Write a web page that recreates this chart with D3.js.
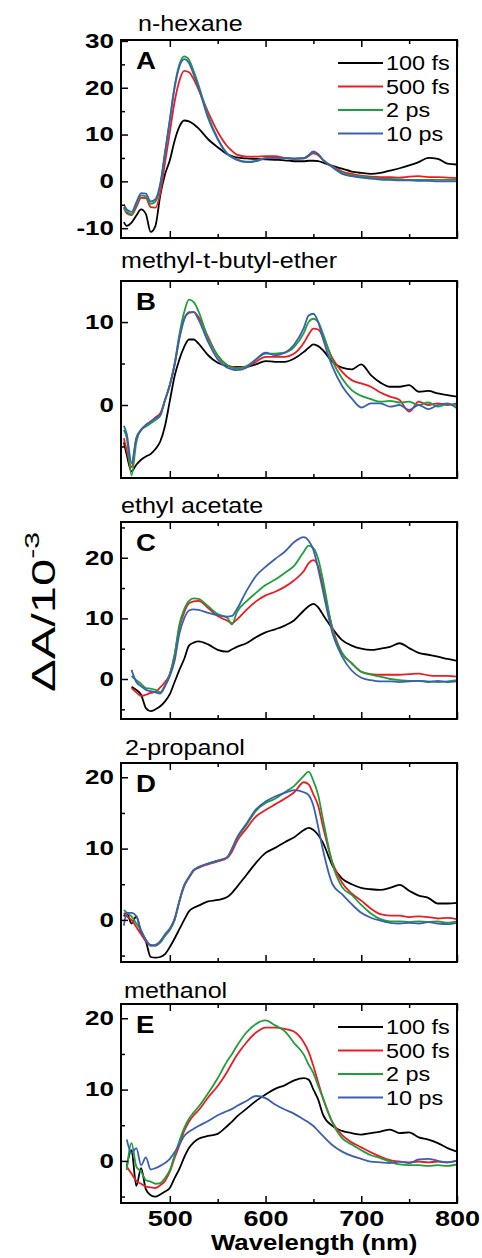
<!DOCTYPE html>
<html>
<head>
<meta charset="utf-8">
<script src="https://cdn.jsdelivr.net/npm/d3@7"></script>
<style>
body { margin: 0; background: #fff; }
text { font-family: "Liberation Sans", Arial, sans-serif; fill: #000; }
</style>
</head>
<body>
<script>
var width  = 482
var height = 1258

// ---- data (ΔA in units of 10^-3) ----
var wavelength = [452, 455, 460, 465, 470, 475, 480, 485, 490, 495,
  500, 505, 510, 515, 520, 525, 530, 540, 550, 560,
  565, 570, 580, 590, 600, 610, 620, 630, 640, 645,
  650, 655, 660, 670, 680, 690, 700, 710, 720, 730,
  740, 750, 760, 770, 780, 790, 800]

var delays      = ['100 fs', '500 fs', '2 ps', '10 ps']
var delayColors = ['#000000', '#ec1c24', '#1f9e3a', '#3b5fb3']
var solvents    = ['n-hexane', 'methyl-t-butyl-ether', 'ethyl acetate', '2-propanol', 'methanol']
var panelLetters = ['A', 'B', 'C', 'D', 'E']
var xTickLabels = [500, 600, 700, 800]
var yTickLabels = [[30, 20, 10, 0, -10], [10, 0], [20, 10, 0], [20, 10, 0], [20, 10, 0]]

// rows: 100 fs, 500 fs, 2 ps, 10 ps
var hexane = [
  [-8.7, -9.5, -8.8, -7.3, -6.0, -7.0, -10.8, -9.5, -3.0, 1.5,
    4.5, 8.7, 11.7, 13.0, 12.8, 12.2, 11.3, 9.0, 7.3, 5.8,
    5.4, 5.1, 4.9, 4.8, 4.7, 4.6, 4.5, 4.3, 4.3, 4.4,
    4.4, 4.3, 4.0, 3.3, 2.7, 2.1, 1.8, 1.6, 1.8, 2.3,
    2.8, 3.4, 4.1, 5.0, 4.8, 3.8, 3.6],
  [-5.5, -6.8, -7.2, -5.5, -3.5, -3.6, -5.5, -5.6, -2.5, 4.0,
    10.5, 17.0, 21.5, 23.6, 23.3, 21.8, 19.6, 14.8, 10.6, 7.5,
    6.5, 5.7, 5.3, 5.3, 5.4, 5.4, 5.0, 4.8, 4.9, 5.4,
    6.0, 5.6, 4.6, 3.2, 2.1, 1.6, 1.2, 1.0, 0.9, 0.9,
    0.8, 1.0, 1.1, 0.9, 0.9, 0.8, 0.7],
  [-5.8, -6.5, -7.0, -5.0, -3.0, -3.2, -4.8, -4.3, -1.0, 6.0,
    13.2, 20.3, 25.0, 26.7, 26.0, 23.5, 20.6, 14.0, 9.2, 6.0,
    5.2, 4.7, 4.2, 4.4, 5.0, 5.0, 5.0, 4.9, 5.0, 5.6,
    6.3, 5.8, 4.6, 3.1, 1.8, 1.3, 1.0, 0.8, 0.6, 0.5,
    0.4, 0.3, 0.3, 0.3, 0.3, 0.3, 0.3],
  [-5.0, -6.0, -6.5, -4.5, -2.5, -2.6, -4.3, -3.8, -0.5, 6.3,
    13.0, 20.0, 24.5, 26.1, 25.3, 22.8, 20.0, 13.5, 9.0, 5.8,
    5.1, 4.6, 4.1, 4.3, 4.9, 5.0, 5.0, 4.8, 4.9, 5.6,
    6.4, 5.8, 4.6, 3.0, 1.6, 1.1, 0.8, 0.6, 0.4, 0.3,
    0.2, 0.2, 0.1, 0.1, 0.0, 0.0, 0.0]
]

var mtbe = [
  [-4.5, -6.0, -8.0, -7.2, -6.6, -6.2, -5.9, -5.3, -4.4, -2.5,
    0.5, 3.5, 5.5, 7.0, 7.9, 7.9, 7.4, 6.0, 5.1, 4.7,
    4.6, 4.6, 4.6, 4.9, 5.3, 5.2, 5.2, 5.6, 6.4, 6.9,
    7.3, 7.1, 6.6, 5.2, 4.5, 4.3, 4.9, 3.6, 2.7, 2.2,
    2.2, 2.4, 1.6, 1.7, 1.4, 1.2, 1.0],
  [-4.0, -5.5, -7.5, -4.0, -3.0, -2.4, -2.0, -1.5, -1.0, 0.6,
    2.4, 4.9, 8.2, 10.4, 11.1, 11.2, 10.6, 8.2, 5.9, 4.8,
    4.6, 4.5, 4.6, 5.2, 5.8, 5.8, 5.8, 6.2, 7.5, 8.5,
    9.2, 9.1, 8.2, 5.6, 4.0, 3.0, 2.6, 2.2, 1.5, 1.0,
    0.6, -0.8, 0.4, 0.0, 0.2, 0.0, 0.2],
  [-3.0, -4.0, -8.5, -4.5, -3.0, -2.6, -2.2, -1.8, -1.3, 0.6,
    2.4, 5.0, 8.5, 11.2, 12.7, 12.4, 11.3, 8.0, 6.0, 4.8,
    4.5, 4.4, 4.7, 5.5, 6.2, 6.2, 6.3, 7.0, 8.7, 10.0,
    10.4, 10.0, 8.6, 5.3, 3.2, 1.8, 1.1, 0.7, 0.4, 0.5,
    0.3, 0.4, 0.0, 0.3, -0.2, 0.1, 0.0],
  [-2.5, -3.5, -7.0, -4.0, -3.0, -2.4, -2.0, -1.6, -1.2, 0.6,
    2.4, 4.8, 8.0, 10.3, 11.2, 11.2, 10.3, 7.6, 5.5, 4.5,
    4.3, 4.2, 4.5, 5.5, 6.3, 6.0, 6.3, 7.3, 9.3, 10.8,
    11.0, 10.0, 8.0, 4.6, 2.3, 0.8, -0.3, 0.2, 0.2, -0.2,
    0.0, -0.6, 0.0, -0.5, 0.0, 0.2, -0.4]
]

var ethylAcetate = [
  [null, null, -1.3, -1.8, -2.6, -4.8, -5.3, -5.0, -4.5, -3.7,
    -2.5, -0.5, 1.5, 3.3, 5.5, 6.0, 6.2, 5.7, 4.8, 4.5,
    4.9, 5.3, 5.9, 6.9, 7.7, 8.2, 8.8, 9.7, 11.3, 12.0,
    12.4, 11.8, 10.6, 8.3, 6.4, 5.5, 5.0, 4.8, 5.0, 5.3,
    5.9, 5.1, 4.3, 4.0, 3.7, 3.3, 3.0],
  [null, null, -1.5, -2.2, -2.8, -2.6, -2.3, -2.1, -1.4, -0.5,
    0.8, 4.0, 8.5, 11.0, 12.5, 12.8, 12.9, 11.7, 10.4, 9.6,
    9.2, 9.8, 11.4, 12.8, 13.8, 14.4, 15.2, 16.3, 17.8, 19.1,
    19.6, 18.5, 15.2, 8.4, 4.2, 2.6, 1.2, 0.8, 0.7, 0.7,
    0.7, 0.8, 0.9, 0.6, 0.5, 0.5, 0.4],
  [null, null, 0.5, -0.2, -0.8, -1.5, -1.6, -1.8, -2.2, -1.0,
    0.8, 4.0, 9.0, 11.5, 12.9, 13.3, 13.2, 12.0, 10.7, 10.1,
    9.0, 11.0, 12.8, 14.2, 15.5, 16.4, 17.5, 18.7, 21.0, 22.0,
    21.6, 19.8, 16.3, 8.0, 4.3, 2.6, 1.2, 0.7, 0.4, 0.0,
    -0.2, -0.3, -0.3, -0.4, -0.5, -0.4, -0.2],
  [null, null, 1.5, -0.5, -1.2, -1.8, -2.0, -2.2, -2.4, -1.2,
    0.5, 3.0, 7.5, 10.0, 11.3, 11.5, 11.4, 10.9, 10.5, 10.3,
    10.4, 11.5, 14.5, 17.0, 18.5, 19.8, 21.0, 22.6, 23.4, 22.8,
    21.3, 18.2, 14.5, 7.5, 3.7, 1.4, 0.2, -0.2, -0.4, -0.4,
    -0.5, -0.4, -0.3, -0.5, -0.3, -0.5, -0.4]
]

var propanol = [
  [0.5, 1.0, -0.5, 0.5, -1.8, -3.0, -5.2, -5.3, -5.2, -4.8,
    -3.8, -2.6, -1.3, 0.0, 1.2, 1.7, 2.0, 2.6, 2.8, 3.2,
    3.8, 4.6, 6.3, 8.0, 9.4, 10.1, 10.9, 11.6, 12.6, 12.9,
    12.6, 11.9, 10.8, 7.6, 5.8, 5.0, 4.5, 4.3, 4.2, 4.5,
    4.9, 4.1, 3.4, 3.1, 2.3, 2.3, 2.4],
  [1.0, 0.5, 0.0, -1.0, -2.0, -3.0, -3.6, -3.5, -3.0, -2.2,
    -1.4, 0.0, 2.6, 4.7, 5.9, 6.9, 7.3, 7.8, 8.2, 8.7,
    9.6, 11.0, 12.8, 14.5, 15.4, 16.2, 17.0, 17.9, 19.3, 19.0,
    17.6, 16.0, 13.1, 8.0, 5.2, 3.7, 2.7, 1.6, 0.8, 0.6,
    0.6, 0.4, 0.5, 0.4, 0.2, 0.3, 0.1],
  [1.4, 1.0, 0.5, -0.5, -1.5, -2.8, -3.6, -3.6, -3.2, -2.2,
    -1.4, 0.0, 2.6, 4.8, 6.0, 7.0, 7.4, 7.9, 8.3, 8.8,
    10.0, 11.4, 13.3, 15.3, 16.4, 17.0, 17.9, 18.8, 20.2, 20.8,
    19.5, 17.5, 14.1, 7.8, 4.6, 3.5, 2.1, 0.9, 0.1, -0.2,
    -0.2, -0.3, -0.2, -0.3, -0.2, -0.4, -0.2],
  [-0.8, 1.0, 1.0, 0.5, -1.5, -2.8, -3.5, -3.6, -3.0, -2.0,
    -1.2, 0.2, 2.7, 4.9, 6.0, 7.0, 7.4, 7.9, 8.3, 8.8,
    10.0, 11.5, 13.5, 15.5, 16.6, 17.3, 17.8, 18.2, 17.9, 17.5,
    16.0, 13.0, 9.8, 5.0, 3.6, 2.2, 1.0, 0.3, -0.1, -0.4,
    -0.5, -0.4, -0.5, -0.3, -0.5, -0.6, -0.4]
]

var methanol = [
  [null, -0.8, 1.5, -3.5, -1.0, -4.0, -4.8, -5.0, -4.7, -4.3,
    -3.8, -2.4, -1.1, 0.5, 1.8, 2.6, 3.1, 3.5, 3.8, 4.9,
    5.5, 6.2, 7.3, 8.4, 9.3, 10.1, 10.6, 11.3, 11.6, 11.4,
    10.0, 8.6, 6.5, 4.9, 4.2, 3.9, 3.7, 3.9, 4.1, 4.4,
    3.9, 4.0, 3.3, 3.0, 2.5, 1.8, 1.3],
  [null, -0.8, -1.8, -2.8, -3.2, -3.6, -3.7, -3.8, -3.4, -2.8,
    -1.5, 0.4, 2.2, 4.2, 5.5, 6.4, 7.1, 8.9, 10.5, 12.5,
    13.7, 14.8, 16.6, 18.0, 18.7, 18.7, 18.5, 18.1, 16.6, 15.3,
    13.3, 11.0, 8.8, 5.4, 3.6, 2.6, 1.9, 1.2, 0.6, 0.1,
    -0.1, -0.2, -0.1, -0.2, -0.1, -0.2, 0.0],
  [null, -1.3, 2.5, -0.8, -1.5, -2.7, -2.9, -3.2, -3.1, -2.4,
    -1.3, 0.8, 2.8, 4.6, 5.9, 6.8, 7.6, 9.5, 11.6, 14.0,
    15.0, 16.1, 18.0, 19.2, 19.7, 19.0, 18.2, 16.5, 14.9, 13.5,
    12.3, 10.5, 8.8, 5.3, 3.2, 2.3, 1.5, 0.8, 0.4, -0.1,
    -0.5, -0.6, -0.6, -0.7, -0.6, -0.7, -0.5],
  [null, 3.0, 1.1, 1.8, -0.6, 0.5, -1.2, -1.0, -0.7, -0.3,
    0.3, 1.2, 2.3, 3.5, 4.1, 4.5, 4.9, 5.6, 6.4, 7.0,
    7.3, 7.7, 8.4, 9.1, 8.8, 7.9, 7.2, 6.6, 5.8, 5.4,
    4.9, 4.2, 3.5, 2.2, 1.3, 0.7, 0.3, -0.1, -0.2, -0.3,
    -0.1, -0.3, 0.2, 0.3, 0.0, -0.2, 0.0]
]

var spectra = [hexane, mtbe, ethylAcetate, propanol, methanol]

// ---- layout ----
var frame = { left: 121, right: 457 }
var panelTop    = [40, 281, 522, 763, 1004]
var panelBottom = [238, 478, 719, 962, 1203]
var yExtent = [[-12.1, 30.2], [-8.8, 14.95], [-6.6, 25.9], [-5.9, 22.0], [-5.9, 22.0]]
var titleX = [138, 121, 121, 125, 124]
var titleY = [31, 268, 513, 755, 998]

var svg = d3.select('body')
  .append('svg')
  .attr('width', width)
  .attr('height', height)

var x = d3.scaleLinear()
  .domain([449, 800])
  .range([frame.left, frame.right])

// stretch text horizontally (the figure's lettering is wide)
function stretch(sel, k) {
  sel.each(function() {
    var w = this.getComputedTextLength()
    d3.select(this).attr('textLength', w * k).attr('lengthAdjust', 'spacingAndGlyphs')
  })
}

function minorTicks(domain, step) {
  return d3.range(Math.ceil(domain[0] / step) * step, domain[1], step)
    .filter(v => v % (2 * step) !== 0)
}

spectra.forEach((panel, p) => {
  var top = panelTop[p], bottom = panelBottom[p]
  var y = d3.scaleLinear()
    .domain(yExtent[p])
    .range([bottom, top])

  var g = svg.append('g')

  g.append('clipPath')
    .attr('id', 'clip' + p)
    .append('rect')
    .attr('x', frame.left).attr('y', top)
    .attr('width', frame.right - frame.left).attr('height', bottom - top)

  var line = d3.line()
    .defined(d => d[1] != null)
    .x(d => x(d[0]))
    .y(d => y(d[1]))
    .curve(d3.curveMonotoneX)

  g.append('g')
    .attr('clip-path', 'url(#clip' + p + ')')
    .selectAll('path')
    .data(panel)
    .enter()
    .append('path')
    .attr('d', s => line(wavelength.map((w, i) => [w, s[i]])))
    .attr('fill', 'none')
    .attr('stroke', (s, i) => delayColors[i])
    .attr('stroke-width', 1.8)
    .attr('stroke-linejoin', 'round')

  // x ticks, bottom and top, pointing inward
  var xMinor = [550, 650, 750]
  var xb = g.append('g')
    .attr('transform', 'translate(0,' + bottom + ')')
    .call(d3.axisBottom(x).tickValues(xTickLabels).tickSize(-7).tickSizeOuter(0)
      .tickPadding(7.5).tickFormat(p === 4 ? d3.format('d') : ''))
  g.append('g')
    .attr('transform', 'translate(0,' + bottom + ')')
    .call(d3.axisBottom(x).tickValues(xMinor).tickSize(-4).tickSizeOuter(0).tickFormat(''))
  g.append('g')
    .attr('transform', 'translate(0,' + top + ')')
    .call(d3.axisTop(x).tickValues(xTickLabels).tickSize(-7).tickSizeOuter(0).tickFormat(''))
  g.append('g')
    .attr('transform', 'translate(0,' + top + ')')
    .call(d3.axisTop(x).tickValues(xMinor).tickSize(-4).tickSizeOuter(0).tickFormat(''))

  var yl = g.append('g')
    .attr('transform', 'translate(' + frame.left + ',0)')
    .call(d3.axisLeft(y).tickValues(yTickLabels[p]).tickSize(-7).tickSizeOuter(0)
      .tickPadding(7).tickFormat(d => String(d)))
  g.append('g')
    .attr('transform', 'translate(' + frame.left + ',0)')
    .call(d3.axisLeft(y).tickValues(minorTicks(yExtent[p], 5)).tickSize(-4).tickSizeOuter(0).tickFormat(''))

  g.selectAll('.domain').remove()
  g.selectAll('.tick line').attr('stroke', '#000').attr('stroke-width', 1.5)

  yl.selectAll('text')
    .attr('font-size', 20)
    .attr('font-weight', 'bold')
    .attr('fill', '#000')
    .call(stretch, 1.3)

  if (p === 4) {
    xb.selectAll('text')
      .attr('font-size', 22.5)
      .attr('font-weight', 'bold')
      .attr('fill', '#000')
      .call(stretch, 1.2)
  }

  g.append('rect')
    .attr('x', frame.left).attr('y', top)
    .attr('width', frame.right - frame.left).attr('height', bottom - top)
    .attr('fill', 'none')
    .attr('stroke', '#000')
    .attr('stroke-width', 2)

  g.append('text')
    .attr('x', titleX[p]).attr('y', titleY[p])
    .attr('font-size', 22)
    .text(solvents[p])
    .call(stretch, 1.14)

  g.append('text')
    .attr('x', 136).attr('y', top + 29)
    .attr('font-size', 23)
    .attr('font-weight', 'bold')
    .text(panelLetters[p])
    .call(stretch, 1.2)

  if (p === 0 || p === 4) {
    var legend = g.append('g')
      .attr('transform', 'translate(0,' + (top + 23) + ')')
    delays.forEach((label, i) => {
      var row = legend.append('g').attr('transform', 'translate(0,' + (i * 23.5) + ')')
      row.append('line')
        .attr('x1', 338).attr('x2', 383)
        .attr('stroke', delayColors[i])
        .attr('stroke-width', 1.8)
      row.append('text')
        .attr('x', 386).attr('y', 7)
        .attr('font-size', 19.5)
        .text(label)
        .call(stretch, 1.2)
    })
  }
})

// axis titles
svg.append('text')
  .attr('x', 211).attr('y', 1250)
  .attr('font-size', 22)
  .attr('font-weight', 'bold')
  .text('Wavelength (nm)')
  .call(stretch, 1.17)

var ylab = svg.append('text')
  .attr('font-size', 34)
  .attr('text-anchor', 'middle')
ylab.append('tspan').text('ΔA/10')
ylab.append('tspan').attr('dy', '-0.75em').attr('font-size', 21).text('-3')
var ylw = ylab.node().getComputedTextLength()
ylab.attr('transform', 'translate(55,612) rotate(-90) scale(' + (160 / ylw) + ',1)')
</script>
</body>
</html>
